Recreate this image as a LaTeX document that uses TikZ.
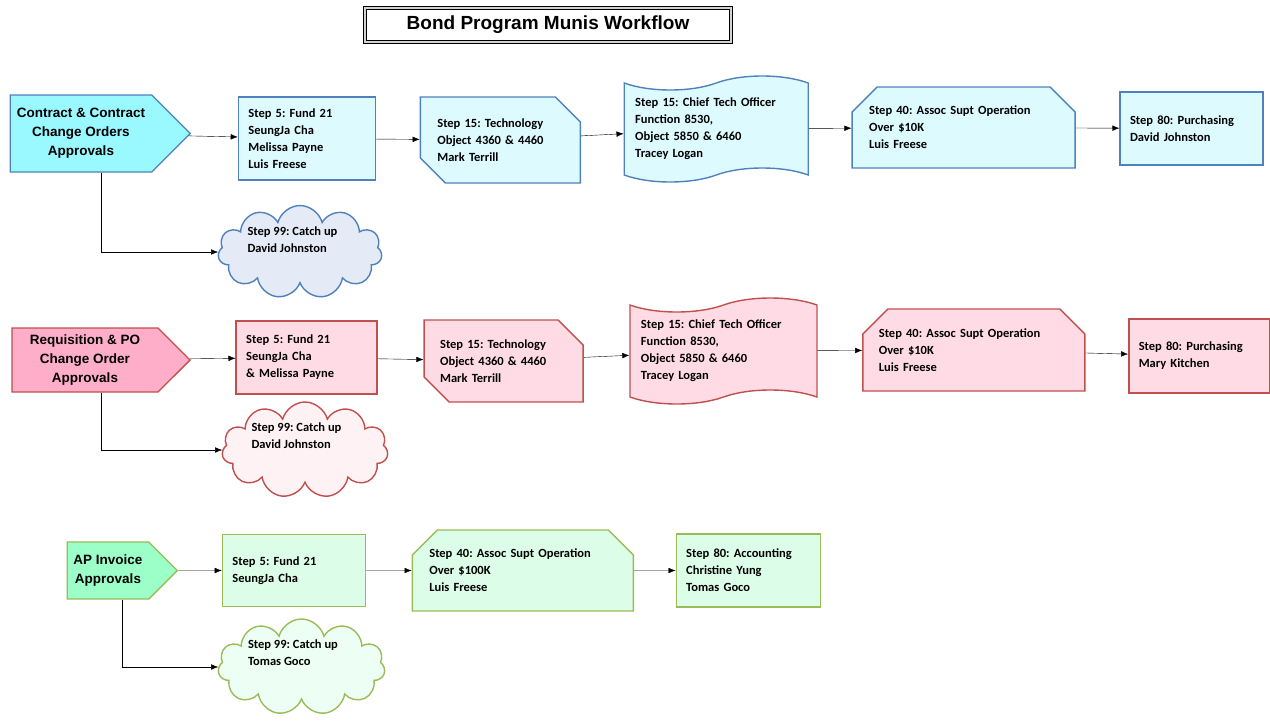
\documentclass[tikz,border=0pt]{standalone}
\usepackage{fontspec}
\setmainfont{Carlito}
\newfontfamily\headfont{Liberation Sans}
\frenchspacing
\usetikzlibrary{positioning,calc,shapes.symbols,shapes.misc,arrows.meta}

\definecolor{bluline}{HTML}{4F81BD}
\definecolor{cyanhead}{HTML}{99F9FF}
\definecolor{cyanbox}{HTML}{DDFAFF}
\definecolor{cloudblue}{HTML}{E4EAF6}
\definecolor{redline}{HTML}{C0504D}
\definecolor{pinkhead}{HTML}{FFAEC9}
\definecolor{pinkbox}{HTML}{FFDCE5}
\definecolor{cloudpink}{HTML}{FFF2F5}
\definecolor{greenline}{HTML}{9BBB59}
\definecolor{minthead}{HTML}{9CFFC8}
\definecolor{mintbox}{HTML}{DCFDE8}
\definecolor{cloudmint}{HTML}{EDFFF4}

\begin{document}
\begin{tikzpicture}[x=1pt,y=-1pt,>={Latex[length=7pt,width=5.5pt]},node distance=43.5pt,
	every node/.style={font=\fontsize{12.5}{17}\selectfont\bfseries},
	head/.style={signal,signal to=east,signal pointer angle=90,draw,line width=1.4pt,align=center,
		font=\headfont\fontsize{13.5}{19}\selectfont\bfseries},
	box/.style={draw,line width=1.4pt,align=left,inner xsep=10pt},
	snip/.style={box,chamfered rectangle,chamfered rectangle xsep=13pt,chamfered rectangle ysep=12pt,
		inner xsep=4pt,chamfered rectangle corners={#1}},
	wavy/.style={box,tape,tape bend height=14pt,inner xsep=11pt},
	puff/.style={cloud,cloud puffs=11,cloud ignores aspect,draw,line width=1.4pt},
	titlebox/.style={draw,line width=1pt,double=gray!35,double distance=2pt,
		font=\headfont\fontsize{19}{22}\selectfont\bfseries}
]
\useasboundingbox (0,0) rectangle (1270,724);

\node[titlebox,minimum width=366pt,minimum height=34pt] (title) at (548,25) {Bond Program Munis Workflow};

% contract row
\node[head,fill=cyanhead,draw=bluline,minimum width=180pt,minimum height=77pt] (con) at (81,133.5)
	{Contract \& Contract\\Change Orders\\Approvals};
\node[box,draw=bluline,fill=cyanbox,text width=117pt,minimum height=83pt] (c5) [right=46.5pt of con,yshift=-5pt]
	{Step 5: Fund 21\\SeungJa Cha\\Melissa Payne\\Luis Freese};
\node[snip={north east,south west},draw=bluline,fill=cyanbox,text width=126pt,minimum height=86pt] (c15) [right=of c5,yshift=-1.5pt]
	{Step 15: Technology\\Object 4360 \& 4460\\Mark Terrill};
\node[wavy,draw=bluline,fill=cyanbox,text width=162pt,minimum height=106pt] (ccto) [right=42.5pt of c15,yshift=11pt]
	{Step 15: Chief Tech Officer\\Function 8530,\\Object 5850 \& 6460\\Tracey Logan};
\node[snip={north west,north east},draw=bluline,fill=cyanbox,text width=189pt,minimum height=81pt] (c40) [right=42.5pt of ccto,yshift=1.5pt]
	{Step 40: Assoc Supt Operation\\Over \$10K\\Luis Freese};
\node[box,draw=bluline,fill=cyanbox,text width=123pt,minimum height=73pt] (c80) [right=of c40,yshift=-1pt]
	{Step 80: Purchasing\\David Johnston};
\node[puff,draw=bluline,fill=cloudblue,minimum width=164pt,minimum height=93pt] (c99) at (300,252) {};
\node[align=left,anchor=west] (c99t) at ($(c99.center)+(-56,-12)$) {Step 99: Catch up\\David Johnston};

% requisition row
\node[head,fill=pinkhead,draw=redline,minimum width=178pt,minimum height=64pt] (req) at (85,360)
	{Requisition \& PO\\Change Order\\Approvals};
\node[box,draw=redline,fill=pinkbox,text width=121pt,minimum height=73pt] (r5) [right=44.5pt of req,yshift=2.5pt]
	{Step 5: Fund 21\\SeungJa Cha\\\& Melissa Payne};
\node[snip={north east,south west},draw=redline,fill=pinkbox,text width=127pt,inner xsep=3pt,minimum height=82pt] (r15) [right=45.5pt of r5,yshift=-3.5pt]
	{Step 15: Technology\\Object 4360 \& 4460\\Mark Terrill};
\node[wavy,draw=redline,fill=pinkbox,text width=165pt,minimum height=106pt] (rcto) [right=45.5pt of r15,yshift=10pt]
	{Step 15: Chief Tech Officer\\Function 8530,\\Object 5850 \& 6460\\Tracey Logan};
\node[snip={north west,north east},draw=redline,fill=pinkbox,text width=190pt,inner xsep=3pt,minimum height=82pt] (r40) [right=44.5pt of rcto,yshift=1pt]
	{Step 40: Assoc Supt Operation\\Over \$10K\\Luis Freese};
\node[box,draw=redline,fill=pinkbox,text width=121pt,minimum height=74pt] (r80) [right=42.5pt of r40,yshift=-6pt]
	{Step 80: Purchasing\\Mary Kitchen};
\node[puff,draw=redline,fill=cloudpink,minimum width=166pt,minimum height=96pt] (r99) at (305,450) {};
\node[align=left,anchor=west] (r99t) at ($(r99.center)+(-57,-14)$) {Step 99: Catch up\\David Johnston};

% AP invoice row
\node[head,fill=minthead,draw=greenline,minimum width=110pt,minimum height=57pt] (ap) at (108,570.5)
	{AP Invoice\\Approvals};
\node[box,draw=greenline,fill=mintbox,text width=123pt,minimum height=72pt] (a5) [right=of ap]
	{Step 5: Fund 21\\SeungJa Cha};
\node[snip={north west,north east},draw=greenline,fill=mintbox,text width=187pt,minimum height=81pt] (a40) [right=45.5pt of a5]
	{Step 40: Assoc Supt Operation\\Over \$100K\\Luis Freese};
\node[box,draw=greenline,fill=mintbox,text width=124pt,minimum height=73pt] (a80) [right=41.5pt of a40]
	{Step 80: Accounting\\Christine Yung\\Tomas Goco};
\node[puff,draw=greenline,fill=cloudmint,minimum width=167pt,minimum height=96pt] (a99) at (301.5,667) {};
\node[align=left,anchor=west] (a99t) at ($(a99.center)+(-57,-14)$) {Step 99: Catch up\\Tomas Goco};

\path[->]
	(con) edge (c5)
	(c5) edge (c15)
	(c15) edge (ccto)
	(ccto) edge (c40)
	(c40) edge (c80)
	(req) edge (r5)
	(r5) edge (r15)
	(r15) edge (rcto)
	(rcto) edge (r40)
	(r40) edge (r80)
	(ap) edge (a5)
	(a5) edge (a40)
	(a40) edge (a80)
;

\draw[->] ([xshift=20pt]con.south) |- (c99.west);
\draw[->] ([xshift=16pt]req.south) |- (r99.west);
\draw[->] ([xshift=14pt]ap.south) |- (a99.west);

\end{tikzpicture}
\end{document}
